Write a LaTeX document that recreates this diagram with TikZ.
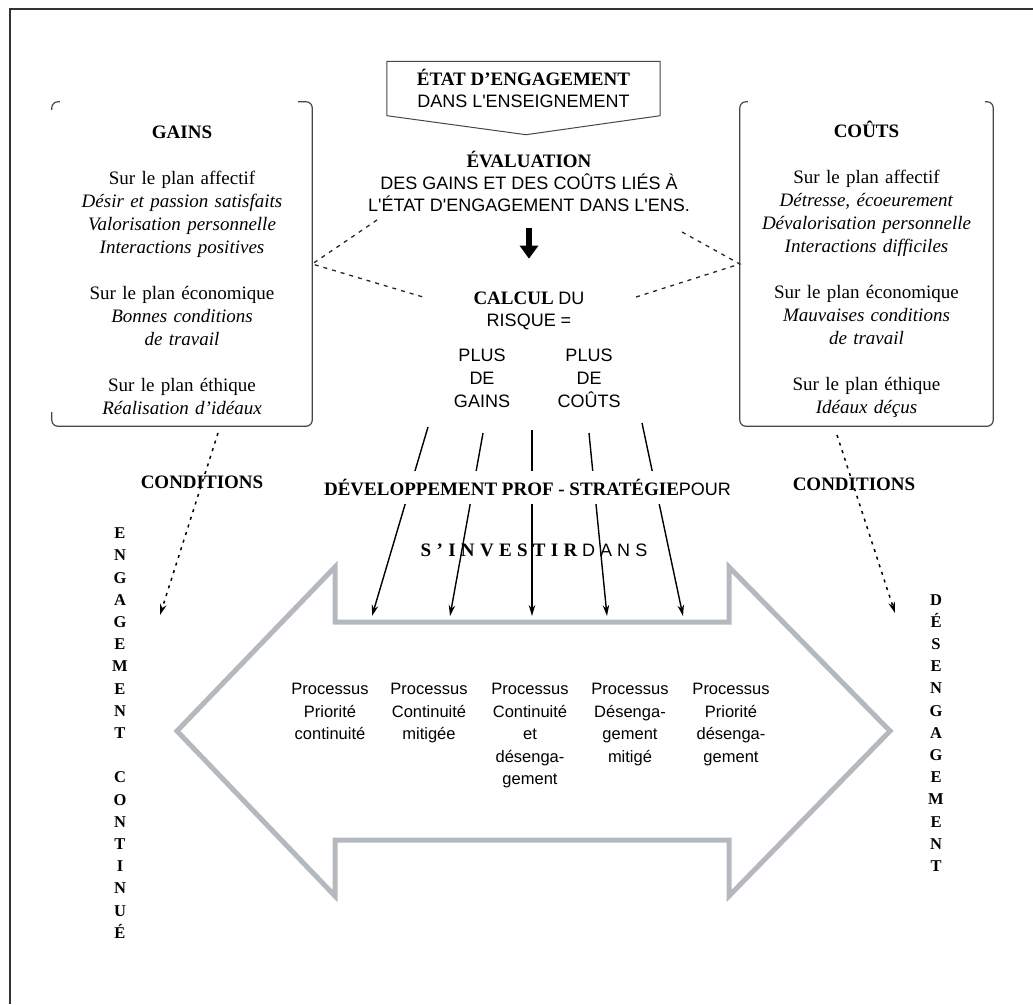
\documentclass[tikz,border=0pt]{standalone}
\usepackage{fontspec}
\setmainfont{Liberation Serif}
\newfontfamily\sansfam{Liberation Sans}
\usetikzlibrary{arrows.meta,calc}
\definecolor{arrowgray}{RGB}{180,184,191}
\definecolor{inkgray}{RGB}{70,70,70}
\newcommand\sanstext{\sansfam\fontsize{18}{21.7}\selectfont}

\begin{document}
\begin{tikzpicture}[x=1pt, y=-1pt, >={Stealth[length=11pt,width=6.5pt]},
  panel/.style={align=center, text width=#1, inner sep=2pt, minimum height=324pt,
    font=\fontsize{19}{23}\selectfont},
  panelline/.style={draw=inkgray, line width=1.2pt, rounded corners=6pt},
  midtxt/.style={align=center, inner sep=0pt, font=\fontsize{19}{21.7}\selectfont},
  sanstxt/.style={align=center, inner sep=0pt, font=\sansfam\fontsize{18}{23}\selectfont},
  proc/.style={align=center, inner sep=0pt, anchor=north, font=\sansfam\fontsize{16.5}{22.5}\selectfont},
  vert/.style={align=center, inner sep=0pt, anchor=north, font=\bfseries\fontsize{16.5}{22.2}\selectfont},
  cond/.style={inner sep=0pt, font=\bfseries\fontsize{19}{23}\selectfont},
  dashline/.style={black!85, line width=1.3pt, dash pattern=on 4pt off 5pt},
  dotarrow/.style={->, line width=1.5pt, dash pattern=on 3pt off 5pt},
  fatarrow/.style={-{Triangle[length=13pt,width=18pt]}, line width=6.5pt},
  bigarrow/.style={draw=arrowgray, line width=5pt, line join=miter}]
\useasboundingbox (0,0) rectangle (1033,1004);
\draw [line width=1.6pt, black!80] (10,1004) -- (10,9) -- (1033,9);

\node [midtxt, minimum width=273pt, minimum height=54pt] (etat) at (523.5,88.5)
  {\textbf{ÉTAT D'ENGAGEMENT}\\{\sanstext DANS L'ENSEIGNEMENT}};
\draw [inkgray, line width=1pt] (etat.north west) -- (etat.north east) -- (etat.south east)
  -- ($(etat.south)+(2.5,19)$) -- (etat.south west) -- cycle;

\node [midtxt] (eval) at (529,181.5) {\textbf{ÉVALUATION}\\{\sanstext DES GAINS ET DES COÛTS LIÉS À}\\
  {\sanstext L'ÉTAT D'ENGAGEMENT DANS L'ENS.}};
\node [midtxt] (calc) at (529,310.7) {\textbf{CALCUL} {\sanstext DU}\\{\sanstext RISQUE =}};
\draw [fatarrow] ([yshift=-16pt]eval.south) -- ([yshift=33pt]calc.north);

\node [sanstxt] (plusg) at (482,378.5) {PLUS\\DE\\GAINS};
\node [sanstxt] (plusc) at (589,378.5) {PLUS\\DE\\COÛTS};

\node [panel=256pt] (gains) at (182,264) {\rule{0pt}{26pt}\textbf{GAINS}\\[23pt]
  Sur le plan affectif\\
  \textit{Désir et passion satisfaits}\\
  \textit{Valorisation personnelle}\\
  \textit{Interactions positives}\\[23pt]
  Sur le plan économique\\
  \textit{Bonnes conditions}\\
  \textit{de travail}\\[23pt]
  Sur le plan éthique\\
  \textit{Réalisation d'idéaux}};
\node [panel=249pt] (couts) at (866.5,264) {\rule{0pt}{26pt}\textbf{COÛTS}\\[23pt]
  Sur le plan affectif\\
  \textit{Détresse, écoeurement}\\
  \textit{Dévalorisation personnelle}\\
  \textit{Interactions difficiles}\\[23pt]
  Sur le plan économique\\
  \textit{Mauvaises conditions}\\
  \textit{de travail}\\[23pt]
  Sur le plan éthique\\
  \textit{Idéaux déçus}};
\draw [panelline] ([xshift=-14pt]gains.north east) -- (gains.north east) -- (gains.south east)
  -- (gains.south west) -- ([yshift=14pt]gains.south west);
\draw [panelline] ([yshift=-8pt]gains.north west) -- (gains.north west) -- ([xshift=8pt]gains.north west);
\draw [panelline] ([xshift=8pt]couts.north west) -- (couts.north west) -- (couts.south west)
  -- (couts.south east) -- (couts.north east) -- ([xshift=-8pt]couts.north east);

\coordinate (geval) at (377,220);
\coordinate (gcalc) at (423,297);
\coordinate (ceval) at (682,232);
\coordinate (ccalc) at (633,298);
\draw [dashline] (geval) -- (gains.east) -- (gcalc);
\draw [dashline] (ceval) -- (couts.west) -- (ccalc);

\draw [bigarrow] (177,731) -- (335,567) -- (335,622) -- (729,622) -- (729,567) -- (890,731)
  -- (729,896) -- (729,840) -- (335,840) -- (335,896) -- cycle;

\foreach \i/\xa/\ya/\xb in {1/428/427/372, 2/483/433/450, 3/532/430/532, 4/589/433/607, 5/642/423/683} {
  \coordinate (from\i) at (\xa,\ya);
  \coordinate (to\i) at (\xb,616);
  \draw [->, line width=1.4pt] (from\i) -- (to\i);
}

\node [midtxt, fill=white, inner xsep=2pt, minimum height=33pt] (devprof) at (527.5,487.5)
  {\textbf{DÉVELOPPEMENT PROF - STRATÉGIE}{\sanstext POUR}};
\node [midtxt] (investir) at (534,550.7)
  {{\bfseries\addfontfeature{LetterSpace=28}S'INVESTIR} {\sanstext\addfontfeature{LetterSpace=28}DANS}};

\node [cond] (condg) at (202,482.7) {CONDITIONS};
\node [cond] (condc) at (854,484.7) {CONDITIONS};
\coordinate (dg1) at (218,433);
\coordinate (dg2) at (160,615);
\coordinate (dc1) at (837,435);
\coordinate (dc2) at (895,613);
\draw [dotarrow] (dg1) -- (dg2);
\draw [dotarrow] (dc1) -- (dc2);

\node [proc] (proc1) at (330,683) {Processus\\Priorité\\continuité};
\node [proc] (proc2) at (429,683) {Processus\\Continuité\\mitigée};
\node [proc] (proc3) at (530,683) {Processus\\Continuité\\et\\désenga-\\gement};
\node [proc] (proc4) at (630,683) {Processus\\Désenga-\\gement\\mitigé};
\node [proc] (proc5) at (731,683) {Processus\\Priorité\\désenga-\\gement};

\node [vert] (engcont) at (120,527.7) {E\\N\\G\\A\\G\\E\\M\\E\\N\\T\\[22.2pt]C\\O\\N\\T\\I\\N\\U\\É};
\node [vert] (desenga) at (936,594) {D\\É\\S\\E\\N\\G\\A\\G\\E\\M\\E\\N\\T};
\end{tikzpicture}
\end{document}
